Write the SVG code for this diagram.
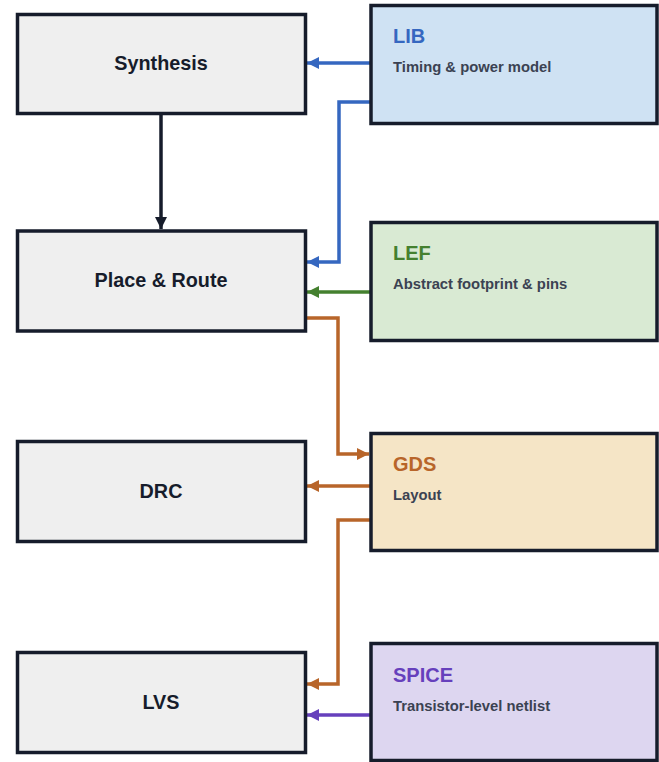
<svg xmlns="http://www.w3.org/2000/svg" width="659" height="762" viewBox="0 0 659 762">
<style>
.box{stroke:#161c2b;stroke-width:3.5}
.step{fill:#efefef}
.lbl{font-family:"Liberation Sans",Arial,sans-serif;font-weight:bold;font-size:19.8px;fill:#161c2b;text-anchor:middle}
.ttl{font-family:"Liberation Sans",Arial,sans-serif;font-weight:bold;font-size:20px}
.sub{font-family:"Liberation Sans",Arial,sans-serif;font-weight:bold;font-size:14.8px;fill:#3b4252}
.c{fill:none;stroke-width:3.5}
</style>
<defs>
<marker id="ak" viewBox="0 0 12 12" refX="12" refY="6" markerWidth="12" markerHeight="12" markerUnits="userSpaceOnUse" orient="auto"><path d="M0,0 L12,6 L0,12 z" fill="#161c2b"/></marker>
<marker id="ab" viewBox="0 0 12 12" refX="12" refY="6" markerWidth="12" markerHeight="12" markerUnits="userSpaceOnUse" orient="auto"><path d="M0,0 L12,6 L0,12 z" fill="#3567c0"/></marker>
<marker id="ag" viewBox="0 0 12 12" refX="12" refY="6" markerWidth="12" markerHeight="12" markerUnits="userSpaceOnUse" orient="auto"><path d="M0,0 L12,6 L0,12 z" fill="#44802f"/></marker>
<marker id="ao" viewBox="0 0 12 12" refX="12" refY="6" markerWidth="12" markerHeight="12" markerUnits="userSpaceOnUse" orient="auto"><path d="M0,0 L12,6 L0,12 z" fill="#b8652a"/></marker>
<marker id="ap" viewBox="0 0 12 12" refX="12" refY="6" markerWidth="12" markerHeight="12" markerUnits="userSpaceOnUse" orient="auto"><path d="M0,0 L12,6 L0,12 z" fill="#6640bc"/></marker>
</defs>
<g id="connectors">
<path class="c" stroke="#161c2b" d="M161,114 V229" marker-end="url(#ak)"/>
<path class="c" stroke="#3567c0" d="M370,63 H307" marker-end="url(#ab)"/>
<path class="c" stroke="#3567c0" d="M370,102 H339 V262 H307" marker-end="url(#ab)"/>
<path class="c" stroke="#44802f" d="M370,292 H307" marker-end="url(#ag)"/>
<path class="c" stroke="#b8652a" d="M307,318 H338 V454 H369" marker-end="url(#ao)"/>
<path class="c" stroke="#b8652a" d="M370,486 H307" marker-end="url(#ao)"/>
<path class="c" stroke="#b8652a" d="M370,520 H338 V684 H307" marker-end="url(#ao)"/>
<path class="c" stroke="#6640bc" d="M370,715 H307" marker-end="url(#ap)"/>
</g>
<g id="synthesis"><rect class="box step" x="17.5" y="14.5" width="288" height="99"/><text class="lbl" x="161" y="70">Synthesis</text></g>
<g id="place-route"><rect class="box step" x="17.5" y="231" width="288" height="100"/><text class="lbl" x="161" y="287">Place &amp; Route</text></g>
<g id="drc"><rect class="box step" x="17.5" y="441.5" width="288" height="100"/><text class="lbl" x="161" y="498">DRC</text></g>
<g id="lvs"><rect class="box step" x="17.5" y="652.5" width="288" height="100"/><text class="lbl" x="161" y="709">LVS</text></g>
<g id="lib"><rect class="box" fill="#cfe2f3" x="371" y="5.5" width="286" height="118"/><text class="ttl" fill="#3567c0" x="393" y="43">LIB</text><text class="sub" x="393" y="72">Timing &amp; power model</text></g>
<g id="lef"><rect class="box" fill="#d9ead3" x="371" y="222.5" width="286" height="118"/><text class="ttl" fill="#44802f" x="393" y="260">LEF</text><text class="sub" x="393" y="289">Abstract footprint &amp; pins</text></g>
<g id="gds"><rect class="box" fill="#f5e5c6" x="371" y="433.5" width="286" height="117"/><text class="ttl" fill="#b8652a" x="393" y="471">GDS</text><text class="sub" x="393" y="500">Layout</text></g>
<g id="spice"><rect class="box" fill="#ddd6f0" x="371" y="643.5" width="286" height="117"/><text class="ttl" fill="#6640bc" x="393" y="682">SPICE</text><text class="sub" x="393" y="711">Transistor-level netlist</text></g>
</svg>
